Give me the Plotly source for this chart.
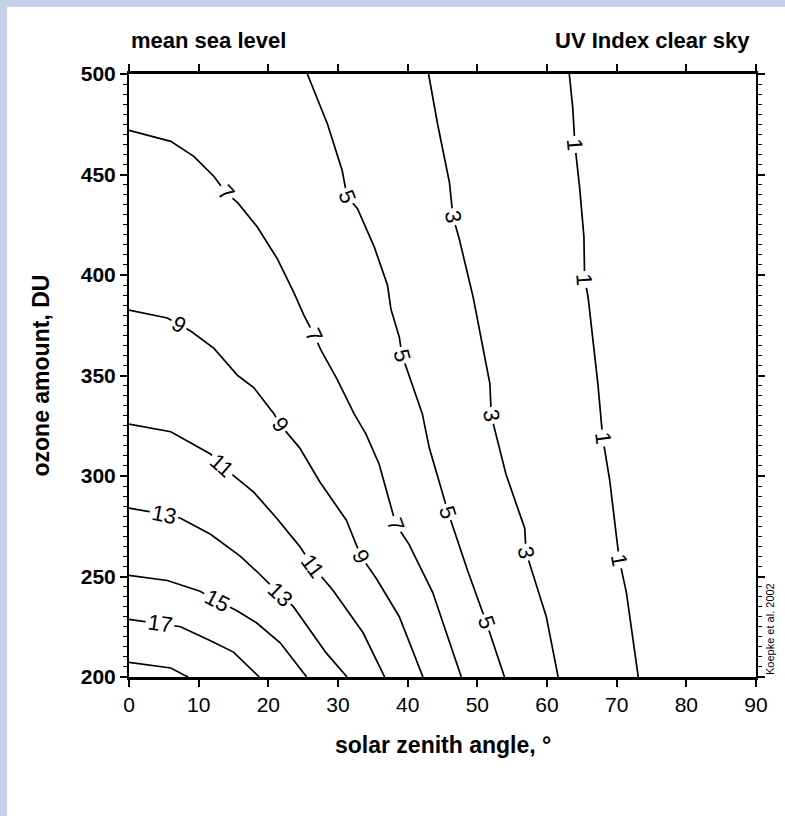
import math
import plotly.graph_objects as go

# ---- data (solar zenith angle [deg], ozone [DU]) ----
c1_x = [63.2, 63.7, 64.0, 64.7, 65.3, 65.4, 65.9, 67.3, 68.0, 69.0, 70.0, 70.4, 71.4, 73.1]
c1_y = [500, 483, 465, 443, 419, 398, 389, 346, 319, 298, 269, 258, 242, 200]

c3_x = [43.0, 44.3, 46.0, 46.5, 47.4, 49.4, 51.8, 52.0, 54.1, 56.8, 57.0, 58.4, 59.9, 61.6]
c3_y = [500, 475, 446, 429, 418, 389, 346, 330, 301, 274, 262, 246, 230, 200]

c5_x = [25.6, 28.5, 30.6, 31.3, 32.8, 35.2, 37.1, 37.6, 38.8, 39.2, 40.4, 42.1, 43.1, 45.8, 48.6, 51.3, 53.9]
c5_y = [500, 475, 452, 439, 433, 414, 395, 383, 369, 360, 348, 331, 314, 282, 253, 227, 200]

c7_x = [0, 6.0, 9.3, 12.2, 13.9, 15.6, 18.4, 21.3, 23.7, 25.1, 26.6, 27.5, 29.9, 32.3, 34.0, 35.9, 38.3, 40.2, 43.6, 47.7]
c7_y = [472, 466.5, 459, 449, 441, 436, 424, 408, 391, 380, 370, 363, 348, 331, 321, 306, 276, 266, 242, 200]

c9_x = [0, 5.5, 7.2, 8.9, 12.2, 15.6, 17.9, 20.8, 21.7, 24.5, 27.4, 31.2, 33.3, 35.5, 38.8, 42.2]
c9_y = [382.5, 378.6, 375.4, 372, 363.5, 350, 344, 331, 325.5, 314, 297, 278, 260, 249, 230, 200]

c11_x = [0, 6.0, 11.7, 13.3, 17.9, 21.2, 24.5, 26.4, 29.3, 33.6, 36.7]
c11_y = [325.8, 322, 311, 305, 292, 279, 265, 255, 243, 222, 200]

c13_x = [0, 5.0, 7.4, 11.7, 16.0, 18.8, 21.7, 23.6, 28.3, 31.3]
c13_y = [284, 281, 279, 271, 260, 251, 241, 235, 212, 200]

c15_x = [0, 5.5, 10.2, 12.6, 15.5, 18.3, 21.7, 25.5]
c15_y = [250.6, 248, 242.7, 238, 233, 227, 217, 200]

c17_x = [0, 4.5, 7.4, 11.7, 15.0, 18.7]
c17_y = [228.7, 226.5, 225, 218, 212.4, 200]

c19_x = [0, 6.0, 7.9, 8.5]
c19_y = [207.3, 204.5, 201, 200]

levels = [1, 3, 5, 7, 9, 11, 13, 15, 17, 19]
contours_x = [c1_x, c3_x, c5_x, c7_x, c9_x, c11_x, c13_x, c15_x, c17_x, c19_x]
contours_y = [c1_y, c3_y, c5_y, c7_y, c9_y, c11_y, c13_y, c15_y, c17_y, c19_y]

# contour labels: level, x, y
label_level = [1, 1, 1, 1, 3, 3, 3, 5, 5, 5, 5, 7, 7, 7, 9, 9, 9, 11, 11, 13, 13, 15, 17]
label_x = [64.0, 65.4, 68.0, 70.4, 46.5, 52.0, 57.0, 31.3, 39.2, 45.8, 51.3, 13.9, 26.6, 38.3,
           7.2, 21.7, 33.3, 13.3, 26.4, 5.0, 21.7, 12.6, 4.5]
label_y = [465, 398, 319, 258, 429, 330, 262, 439, 360, 282, 227, 441, 370, 276,
           375.4, 325.5, 260, 305, 255, 281, 241, 238, 226.5]

x_ticks = [0, 10, 20, 30, 40, 50, 60, 70, 80, 90]
y_ticks = [200, 250, 300, 350, 400, 450, 500]

# ---- figure ----
W, H = 785, 816
ML, MR, MT, MB = 129, 29, 74, 139
PW, PH = W - ML - MR, H - MT - MB
px_deg = PW / 90.0
px_du = PH / 300.0
FONT = "Liberation Sans, Arial"

fig = go.Figure()
for xs, ys in zip(contours_x, contours_y):
    fig.add_trace(go.Scatter(x=xs, y=ys, mode="lines",
                             line=dict(color="black", width=1.7),
                             hoverinfo="skip", showlegend=False))


def label_angle(xs, ys, lx, ly):
    best, bi = None, 0
    for i in range(len(xs)):
        d = ((xs[i] - lx) * px_deg) ** 2 + ((ys[i] - ly) * px_du) ** 2
        if best is None or d < best:
            best, bi = d, i
    i0 = max(bi - 1, 0)
    i1 = min(bi + 1, len(xs) - 1)
    dx = (xs[i1] - xs[i0]) * px_deg
    dy = (ys[i0] - ys[i1]) * px_du
    return math.degrees(math.atan2(dy, dx))


annotations = []
for lv, lx, ly in zip(label_level, label_x, label_y):
    k = levels.index(lv)
    ang = label_angle(contours_x[k], contours_y[k], lx, ly)
    annotations.append(dict(x=lx, y=ly, xref="x", yref="y", text=str(lv),
                            showarrow=False, textangle=ang, bgcolor="white",
                            borderpad=2,
                            font=dict(family=FONT, size=22, color="black")))

annotations += [
    dict(x=0, y=1 + 34 / PH, xref="paper", yref="paper", text="mean sea level",
         showarrow=False, xanchor="left", yanchor="middle",
         font=dict(family=FONT, size=22, color="black", weight="bold")),
    dict(x=(752 - ML) / PW, y=1 + 34 / PH, xref="paper", yref="paper", text="UV Index clear sky",
         showarrow=False, xanchor="right", yanchor="middle",
         font=dict(family=FONT, size=22, color="black", weight="bold")),
    dict(x=0.5, y=-(745 - (H - MB)) / PH, xref="paper", yref="paper",
         text="solar zenith angle, °", showarrow=False, xanchor="center", yanchor="middle",
         font=dict(family=FONT, size=23, color="black", weight="bold")),
    dict(x=(40 - ML) / PW, y=0.5, xref="paper", yref="paper",
         text="ozone amount, DU", showarrow=False, textangle=-90,
         xanchor="center", yanchor="middle",
         font=dict(family=FONT, size=23, color="black", weight="bold")),
    dict(x=(770 - ML) / PW, y=0.0, xref="paper", yref="paper",
         text="Koepke et al. 2002", showarrow=False, textangle=-90,
         xanchor="center", yanchor="bottom",
         font=dict(family=FONT, size=11, color="black")),
]

shapes = [
    dict(type="rect", xref="paper", yref="paper", x0=-ML / PW, x1=(7 - ML) / PW,
         y0=-MB / PH, y1=1 + MT / PH, fillcolor="#c7cfec", line=dict(width=0), layer="below"),
    dict(type="rect", xref="paper", yref="paper", x0=-ML / PW, x1=1 + MR / PW,
         y0=1 + (MT - 7) / PH, y1=1 + MT / PH, fillcolor="#c7cfec", line=dict(width=0), layer="below"),
]

fig.update_layout(
    width=W, height=H,
    margin=dict(l=ML, r=MR, t=MT, b=MB, pad=0),
    paper_bgcolor="white", plot_bgcolor="white",
    showlegend=False,
    annotations=annotations,
    shapes=shapes,
    xaxis=dict(range=[0, 90], tickmode="array", tickvals=x_ticks,
               ticktext=[str(v) for v in x_ticks],
               ticks="outside", ticklen=7, tickwidth=1.5, tickcolor="black",
               showline=True, linewidth=3, linecolor="black", mirror="allticks",
               showgrid=False, zeroline=False,
               tickfont=dict(family=FONT, size=21, color="black")),
    yaxis=dict(range=[200, 500], tickmode="array", tickvals=y_ticks,
               ticktext=[str(v) for v in y_ticks],
               ticks="outside", ticklen=7, tickwidth=1.5, tickcolor="black",
               minor=dict(ticks="outside", dtick=5, ticklen=4, tickwidth=1, tickcolor="black"),
               showline=True, linewidth=2, linecolor="black", mirror="allticks",
               showgrid=False, zeroline=False,
               tickfont=dict(family=FONT, size=21, color="black", weight="bold")),
)

fig.write_html("out.html")
